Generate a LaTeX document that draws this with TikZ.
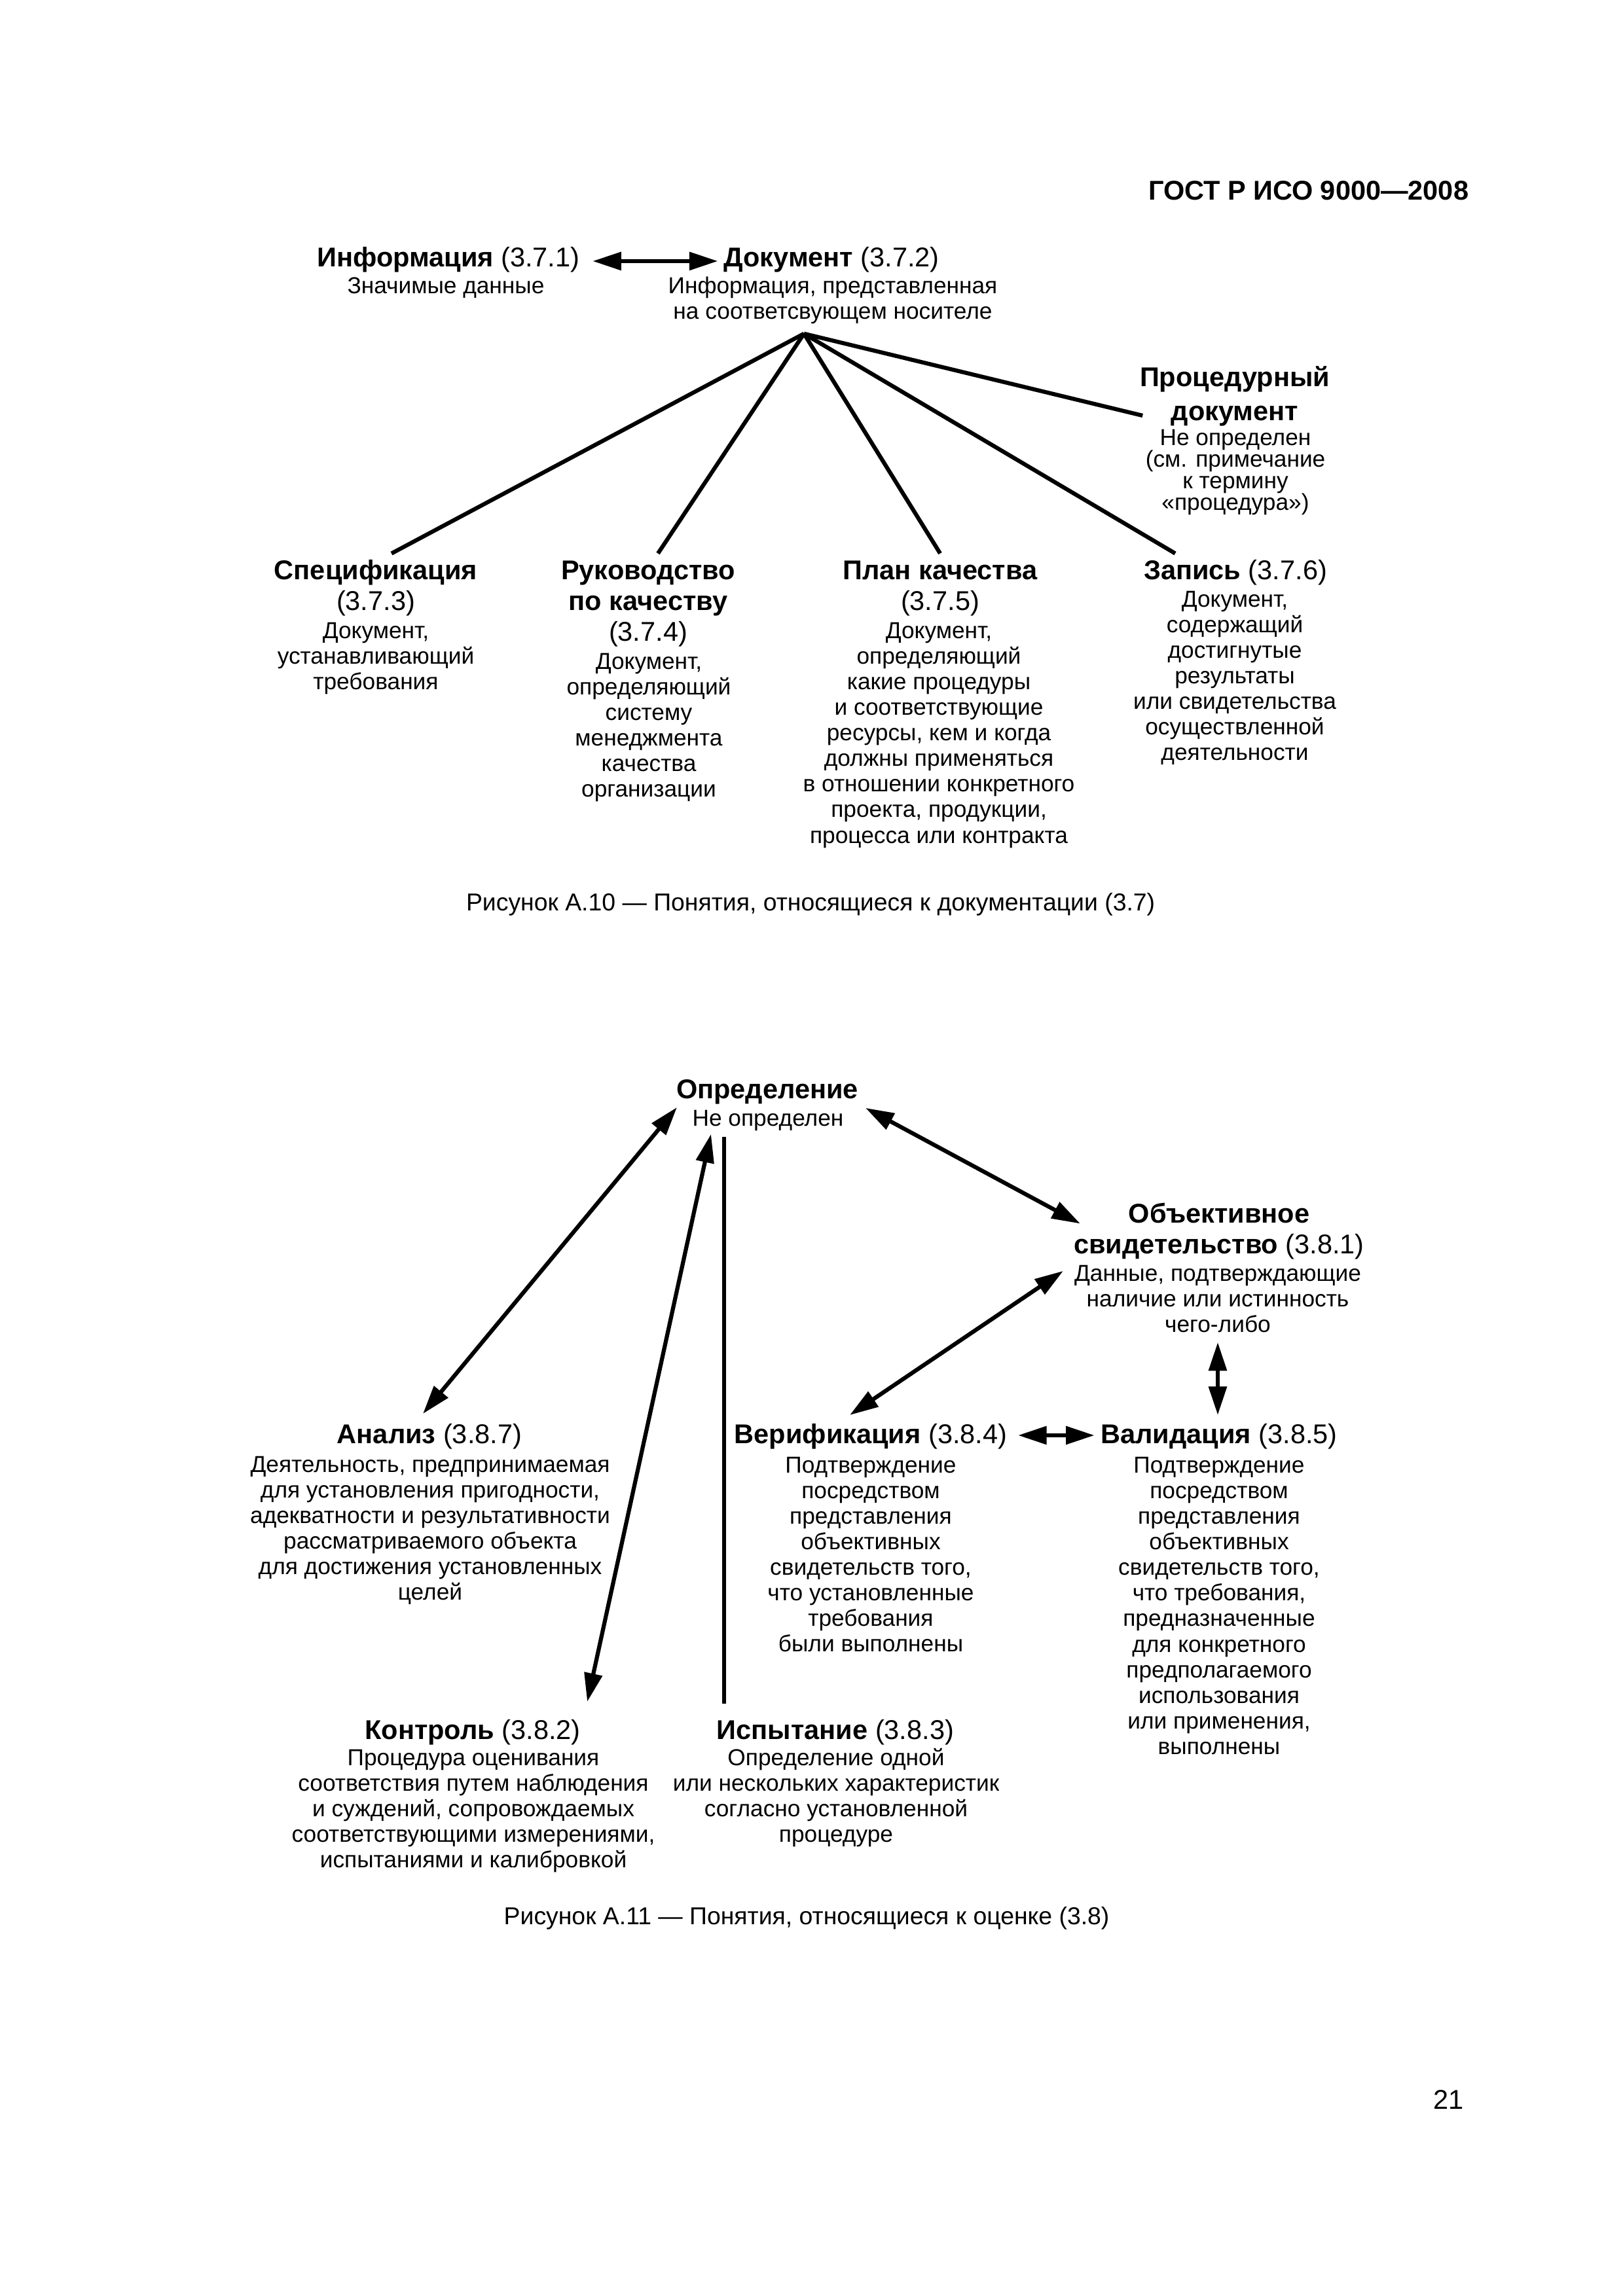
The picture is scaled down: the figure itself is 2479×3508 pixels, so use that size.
\documentclass[tikz,border=0pt]{standalone}
\usepackage{fontspec}
\setmainfont{Liberation Sans}
\usetikzlibrary{arrows.meta,calc}
\newcommand{\hstr}{\rule{0pt}{9.5pt}}
\newcommand{\bstr}{\rule{0pt}{8pt}}
\newcommand{\nolsk}{\lineskiplimit-100pt\relax}
\tikzset{
  hd/.style={anchor=north, yshift=9.5pt, inner sep=0pt, align=center,
    font=\fontsize{10}{11.3}\selectfont\nolsk},
  bd/.style={anchor=north, yshift=8pt, inner sep=0pt, align=center,
    font=\fontsize{8.5}{9.4}\selectfont\nolsk},
  bdtight/.style={bd, font=\fontsize{8.5}{7.95}\selectfont\nolsk},
  capt/.style={anchor=base, inner sep=0pt, font=\fontsize{9}{11}\selectfont},
  ln/.style={line width=1.5pt},
  arr/.style={ln, {Triangle[length=10.5pt,width=6.5pt]}-{Triangle[length=10.5pt,width=6.5pt]}},
}
\begin{document}
\begin{tikzpicture}[x=0.2409pt, y=-0.2409pt]
\useasboundingbox (0,0) rectangle (2479,3508);

% header
\node[anchor=base east, inner sep=0pt, font=\fontsize{10}{12}\selectfont\bfseries] (gost) at (2244,305) {ГОСТ Р ИСО 9000—2008};

% ---------- Figure A.10 ----------
\node[hd] (info) at (685,407) {\hstr\textbf{Информация} (3.7.1)};
\node[bd] (infob) at (681,448) {\bstr Значимые данные};
\node[hd] (doc) at (1270,407) {\hstr\textbf{Документ} (3.7.2)};
\node[bd] (docb) at (1272,448) {\bstr Информация, представленная\\на соответсвующем носителе};

\node[hd, font=\fontsize{10}{12.5}\selectfont\bfseries\nolsk] (proc) at (1886,590) {\hstr Процедурный\\документ};
\node[bdtight] (procb) at (1887,680) {\bstr Не определен\\(см. примечание\\к термину\\«процедура»)};

\node[hd] (spec) at (574,885) {\hstr\textbf{Спецификация}\\(3.7.3)};
\node[bd] (specb) at (574,975) {\bstr Документ,\\устанавливающий\\требования};

\node[hd] (ruk) at (990,885) {\hstr\textbf{Руководство}\\\textbf{по качеству}\\(3.7.4)};
\node[bd] (rukb) at (991,1022) {\bstr Документ,\\определяющий\\систему\\менеджмента\\качества\\организации};

\node[hd] (plan) at (1436,885) {\hstr\textbf{План качества}\\(3.7.5)};
\node[bd] (planb) at (1434,975) {\bstr Документ,\\определяющий\\какие процедуры\\и соответствующие\\ресурсы, кем и когда\\должны применяться\\в отношении конкретного\\проекта, продукции,\\процесса или контракта};

\node[hd] (zap) at (1887,885) {\hstr\textbf{Запись} (3.7.6)};
\node[bd] (zapb) at (1886,927) {\bstr Документ,\\содержащий\\достигнутые\\результаты\\или свидетельства\\осуществленной\\деятельности};

\draw[arr] ($(info.north east)+(19,31.4)$) -- ($(doc.north west)+(-8,31.4)$);
\coordinate (apex) at ($(docb.north)+(-44,95)$);
\draw[ln] (apex) -- ($(spec.north)+(24,0)$);
\draw[ln] (apex) -- ($(ruk.north)+(15,0)$);
\draw[ln] (apex) -- ($(plan.north)+(0,0)$);
\draw[ln] (apex) -- ($(zap.north)+(-92,0)$);
\draw[ln] (apex) -- ($(proc.north west)+(5,84.4)$);

\node[capt] (cap10) at (1238,1391) {Рисунок А.10 — Понятия, относящиеся к документации (3.7)};

% ---------- Figure A.11 ----------
\node[hd] (opr) at (1172,1678) {\hstr\textbf{Определение}};
\node[bd] (oprb) at (1173,1720) {\bstr Не определен};

\node[hd] (obj) at (1862,1868) {\hstr\textbf{Объективное}\\\textbf{свидетельство} (3.8.1)};
\node[bd] (objb) at (1860,1957) {\bstr Данные, подтверждающие\\наличие или истинность\\чего-либо};

\node[hd] (anl) at (656,2205) {\hstr\textbf{Анализ} (3.8.7)};
\node[bd] (anlb) at (657,2249) {\bstr Деятельность, предпринимаемая\\для установления пригодности,\\адекватности и результативности\\рассматриваемого объекта\\для достижения установленных\\целей};

\node[hd] (ver) at (1330,2205) {\hstr\textbf{Верификация} (3.8.4)};
\node[bd] (verb) at (1330,2250) {\bstr Подтверждение\\посредством\\представления\\объективных\\свидетельств того,\\что установленные\\требования\\были выполнены};

\node[hd] (val) at (1862,2205) {\hstr\textbf{Валидация} (3.8.5)};
\node[bd] (valb) at (1862,2250) {\bstr Подтверждение\\посредством\\представления\\объективных\\свидетельств того,\\что требования,\\предназначенные\\для конкретного\\предполагаемого\\использования\\или применения,\\выполнены};

\node[hd] (kon) at (722,2657) {\hstr\textbf{Контроль} (3.8.2)};
\node[bd] (konb) at (723,2697) {\bstr Процедура оценивания\\соответствия путем наблюдения\\и суждений, сопровождаемых\\соответствующими измерениями,\\испытаниями и калибровкой};

\node[hd] (isp) at (1276,2657) {\hstr\textbf{Испытание} (3.8.3)};
\node[bd] (ispb) at (1277,2697) {\bstr Определение одной\\или нескольких характеристик\\согласно установленной\\процедуре};

\draw[arr] ($(oprb.north)+(-139,5)$) -- ($(anl.north)+(-10,-5.6)$);
\draw[arr] ($(oprb.north)+(-87,46)$) -- ($(kon.north)+(175,-17.6)$);
\draw[ln] ($(oprb.north)+(-67,50)$) -- ($(isp.north)+(-170,-14.6)$);
\draw[arr] ($(oprb.north)+(149,6)$) -- ($(obj.north)+(-212,41)$);
\draw[arr] ($(objb.north)+(-236,18)$) -- ($(ver.north)+(-32,-3.6)$);
\draw[arr] ($(objb.north)+(0,127)$) -- ($(val.north)+(-2,-3.6)$);
\draw[arr] ($(ver.north east)+(16,27.4)$) -- ($(val.north west)+(-9,27.4)$);

\node[capt] (cap11) at (1232,2940) {Рисунок А.11 — Понятия, относящиеся к оценке (3.8)};

\node[anchor=base east, inner sep=0pt, font=\fontsize{10}{12}\selectfont] (pnum) at (2236,3222) {21};
\end{tikzpicture}
\end{document}
